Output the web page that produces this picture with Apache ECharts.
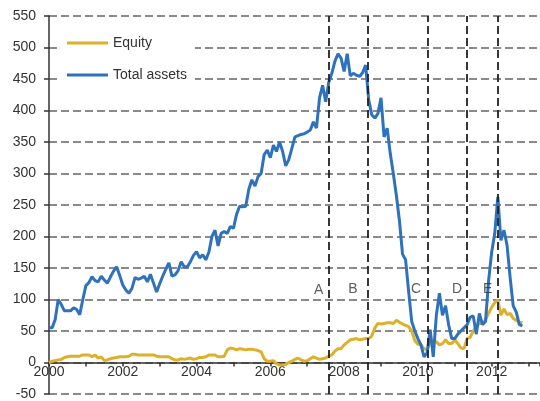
<!DOCTYPE html>
<html>
<head>
<meta charset="utf-8">
<script src="https://cdn.jsdelivr.net/npm/echarts@6/dist/echarts.min.js"></script>
<style>
html,body{margin:0;padding:0;background:#fff;}
#chart{width:540px;height:401px;}
</style>
</head>
<body>
<div id="chart"></div>
<script>
// Monthly observations starting January 2000
const startYear = 2000;
const seriesNames = ['Equity', 'Total assets'];
const equity = [
  0, 2, 3, 4, 5, 8, 9, 10, 10, 10, 10, 12,
  12, 12, 9, 12, 7, 9, 3, 4, 6, 7, 8, 9,
  9, 9, 10, 13, 13, 12, 12, 12, 12, 12, 12, 10,
  9, 9, 9, 9, 6, 4, 4, 6, 5, 6, 7, 5,
  6, 8, 8, 9, 12, 12, 12, 9, 9, 10, 20, 23,
  22, 20, 22, 21, 20, 21, 21, 20, 19, 17, 6, 2,
  2, 3, -2, -4, -4, -3, 0, 2, 5, 7, 4, 2,
  3, 6, 9, 7, 5, 6, 7, 10, 12, 18, 22, 22,
  28, 32, 36, 37, 38, 36, 37, 38, 38, 42, 55, 62,
  61, 62, 63, 63, 62, 67, 64, 61, 59, 57, 50, 35,
  29, 28, 22, 20, 33, 33, 33, 28, 30, 36, 30, 30,
  36, 30, 23, 22, 38, 40, 50, 58, 62, 62, 68, 78,
  88, 95, 99, 75, 85, 76, 78, 70, 67, 64, 63
];
const totalAssets = [
  55, 55, 68, 100, 92, 82, 82, 82, 87, 84, 76, 100,
  122, 127, 136, 130, 128, 137, 131, 126, 136, 145, 152, 138,
  123, 115, 110, 118, 135, 132, 134, 137, 128, 140, 126, 112,
  125, 137, 148, 158, 137, 139, 146, 160, 152, 152, 160, 170,
  176, 166, 171, 163, 175, 200, 210, 185, 205, 208, 205, 216,
  213, 235, 248, 247, 248, 275, 290, 280, 295, 300, 330, 337,
  325, 345, 335, 350, 335, 312, 322, 340, 358, 360, 362, 363,
  366, 369, 382, 372, 420, 440, 414, 445, 459, 478, 490, 483,
  462, 490, 455, 459, 456, 454, 460, 472, 417, 393, 388, 395,
  420, 358, 372, 332, 300, 265, 225, 172, 163, 112, 65, 50,
  38, 28, 9, 15, 52, 9, 75, 110, 75, 90, 60, 38,
  38, 45, 50, 55, 60, 72, 74, 45, 78, 60, 65, 130,
  175, 205, 263, 194, 210, 186, 135, 90, 80, 60, 58
];
const phaseBreaks = [2007.58, 2008.64, 2010.27, 2011.33, 2012.17];
const phaseLetters = ['A', 'B', 'C', 'D', 'E'];
const phaseLetterX = [2007.31, 2008.24, 2009.95, 2011.06, 2011.89];
const phaseLetterY = [115, 117, 116, 116, 116];
const yTicks = {min: -50, max: 550, step: 50};
const xRange = {min: 2000, max: 2013.31, step: 1};

const toPairs = arr => arr.map((v, i) => [startYear + i / 12, v]);
const font = '"Liberation Sans", Arial, sans-serif';

const gridTop = 16, gridBottom = 7, chartH = 401;
const plotH = chartH - gridTop - gridBottom;
// distance (px) from the bottom of the plot to the zero line
const zeroOffset = plotH * (0 - yTicks.min) / (yTicks.max - yTicks.min);

const chart = echarts.init(document.getElementById('chart'));
chart.setOption({
  animation: false,
  backgroundColor: '#ffffff',
  grid: {left: 49, right: 0, top: gridTop, bottom: gridBottom, containLabel: false, outerBoundsMode: 'none'},
  legend: {
    data: seriesNames,
    orient: 'vertical',
    left: 60,
    top: 25,
    padding: [10, 8, 10, 7],
    backgroundColor: '#ffffff',
    icon: 'rect',
    itemWidth: 41,
    itemHeight: 3,
    itemGap: 16,
    textStyle: {fontFamily: font, fontSize: 14, color: '#333', lineHeight: 16}
  },
  xAxis: {
    type: 'value',
    position: 'bottom',
    offset: -zeroOffset,
    min: xRange.min,
    max: xRange.max,
    interval: xRange.step,
    axisLine: {show: true, onZero: false, lineStyle: {color: '#333', width: 1.5}},
    axisTick: {show: true, length: 4, inside: false, lineStyle: {color: '#333', width: 1.5}},
    axisLabel: {
      margin: 3,
      fontFamily: font, fontSize: 14, color: '#333',
      formatter: v => (Math.round(v) % 2 === 0 ? String(Math.round(v)) : '')
    },
    splitLine: {show: false}
  },
  yAxis: {
    type: 'value',
    min: yTicks.min,
    max: yTicks.max,
    interval: yTicks.step,
    axisLine: {show: true, onZero: false, lineStyle: {color: '#333', width: 1.5}},
    axisTick: {show: true, length: 5, inside: false, lineStyle: {color: '#333', width: 1.5}},
    axisLabel: {margin: 13, fontFamily: font, fontSize: 14, color: '#333'},
    splitLine: {show: true, lineStyle: {color: '#8a8a8a', width: 1.8, type: [8, 4]}}
  },
  series: [
    {
      name: seriesNames[0],
      type: 'line',
      data: toPairs(equity),
      showSymbol: false,
      symbol: 'none',
      lineStyle: {color: '#DDB02C', width: 3},
      itemStyle: {color: '#DDB02C'},
      z: 3
    },
    {
      name: seriesNames[1],
      type: 'line',
      data: toPairs(totalAssets),
      showSymbol: false,
      symbol: 'none',
      lineStyle: {color: '#2E72BD', width: 3},
      itemStyle: {color: '#2E72BD'},
      z: 4,
      markLine: {
        silent: true,
        symbol: ['none', 'none'],
        label: {show: false},
        lineStyle: {color: '#222', width: 1.8, type: [8, 4]},
        data: phaseBreaks.map(x => ({xAxis: x}))
      }
    },
    {
      name: 'phases',
      type: 'scatter',
      data: phaseLetters.map((t, i) => [phaseLetterX[i], phaseLetterY[i], t]),
      symbolSize: 0,
      silent: true,
      z: 5,
      label: {
        show: true,
        position: 'inside',
        formatter: p => p.value[2],
        fontFamily: font, fontSize: 14, color: '#333'
      }
    }
  ]
});
</script>
</body>
</html>
